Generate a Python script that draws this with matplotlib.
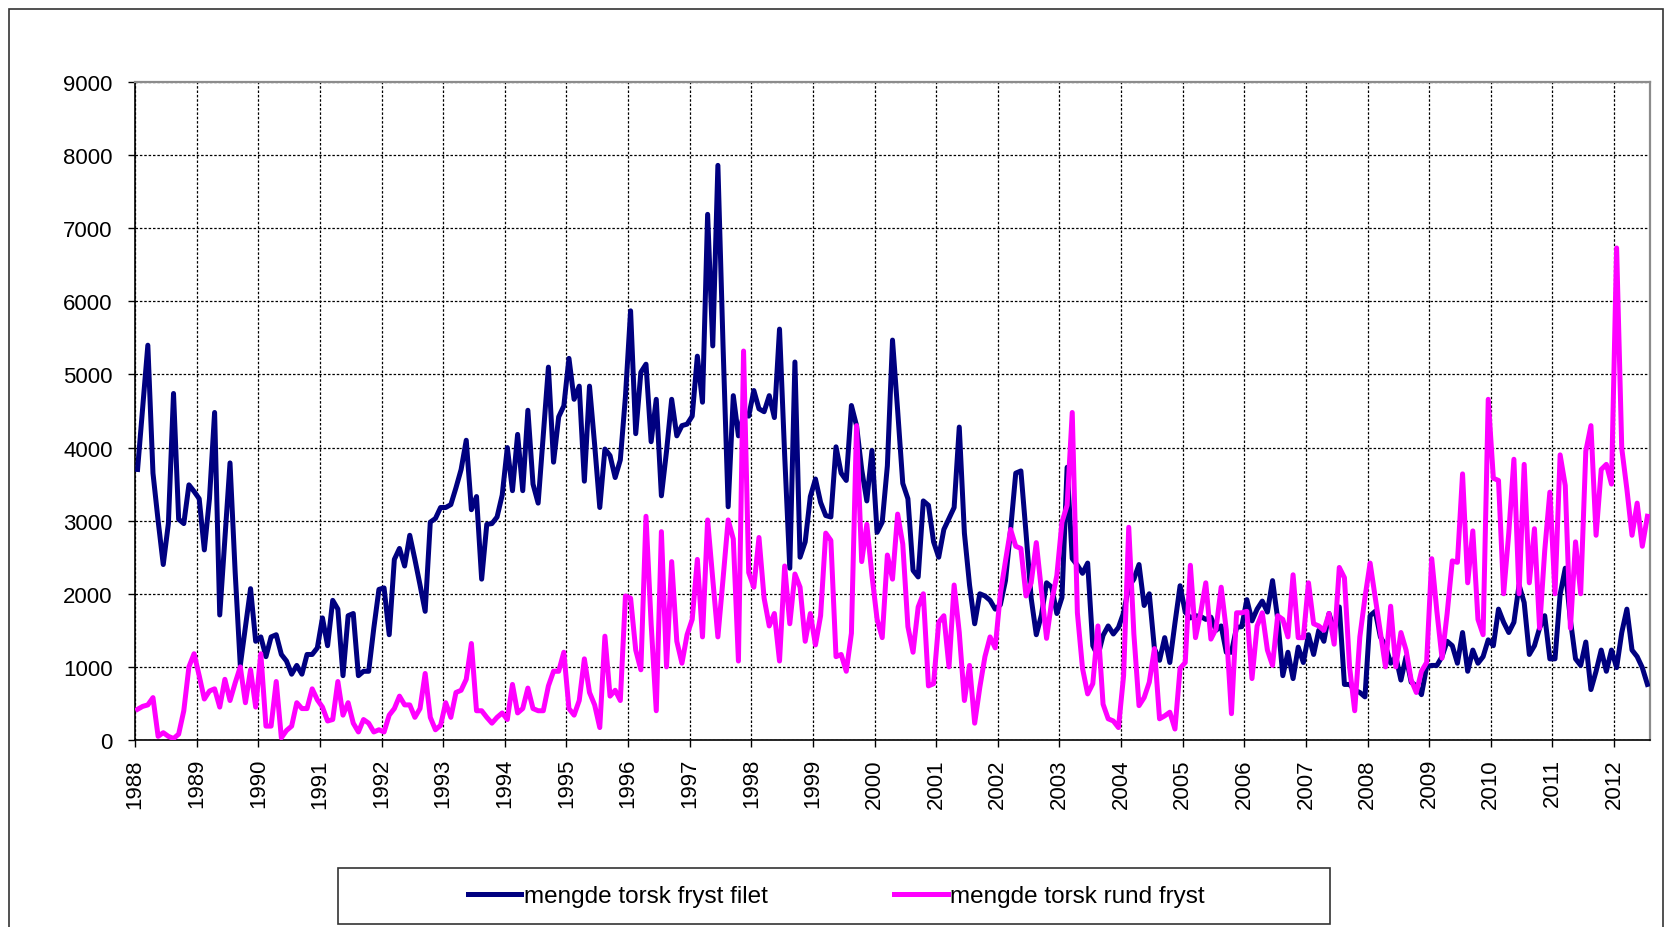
import numpy as np
import matplotlib.pyplot as plt
from matplotlib.patches import Rectangle

# monthly values, Jan 1988 - Jul 2012
years = list(range(1988, 2013))

filet = [
    3700, 4550, 5400, 3650, 3000, 2400, 2960, 4740, 3020, 2960, 3490, 3400,  # 1988
    3300, 2600, 3300, 4480, 1710, 2750, 3790, 2300, 1020, 1550, 2070, 1350,  # 1989
    1410, 1140, 1410, 1440, 1170, 1080, 900, 1020, 900, 1170, 1170, 1260,    # 1990
    1670, 1290, 1910, 1790, 880, 1700, 1730, 880, 940, 940, 1530, 2060,      # 1991
    2080, 1440, 2470, 2620, 2380, 2800, 2470, 2120, 1760, 2980, 3030, 3180,  # 1992
    3180, 3220, 3450, 3700, 4100, 3150, 3330, 2200, 2950, 2960, 3050, 3350,  # 1993
    4000, 3410, 4180, 3410, 4510, 3500, 3240, 4180, 5100, 3800, 4420, 4570,  # 1994
    5220, 4660, 4840, 3540, 4840, 4040, 3180, 3980, 3890, 3590, 3830, 4700,  # 1995
    5870, 4190, 5030, 5140, 4080, 4660, 3340, 3950, 4660, 4160, 4300, 4320,  # 1996
    4430, 5250, 4620, 7190, 5390, 7860, 5400, 3190, 4710, 4160, 4450, 4430,  # 1997
    4780, 4530, 4490, 4710, 4410, 5620, 3900, 2350, 5170, 2500, 2710, 3330,  # 1998
    3570, 3250, 3070, 3050, 4010, 3650, 3550, 4575, 4300, 3700, 3270, 3960,  # 1999
    2840, 2980, 3750, 5470, 4510, 3510, 3300, 2320, 2230, 3270, 3210, 2710,  # 2000
    2500, 2880, 3030, 3180, 4280, 2830, 2120, 1590, 2000, 1970, 1910, 1790,  # 2001
    1850, 2180, 2880, 3650, 3680, 2830, 1940, 1440, 1710, 2150, 2090, 1730,  # 2002
    1950, 3730, 2480, 2390, 2280, 2420, 1290, 1150, 1430, 1560, 1450, 1540,  # 2003
    1740, 2100, 2200, 2400, 1840, 2000, 1250, 1090, 1400, 1060, 1600, 2110,  # 2004
    1750, 1670, 1700, 1690, 1650, 1680, 1500, 1560, 1200, 1200, 1540, 1550,  # 2005
    1920, 1630, 1790, 1900, 1750, 2180, 1660, 880, 1200, 840, 1270, 1060,    # 2006
    1440, 1170, 1500, 1350, 1730, 1500, 1820, 760, 760, 680, 650, 590,       # 2007
    1700, 1760, 1410, 1290, 1050, 1140, 820, 1140, 790, 740, 620, 1000,      # 2008
    1020, 1020, 1140, 1350, 1290, 1050, 1470, 940, 1230, 1050, 1140, 1370,   # 2009
    1290, 1790, 1610, 1470, 1610, 2120, 1880, 1170, 1290, 1530, 1700, 1110,  # 2010
    1110, 1990, 2350, 1640, 1110, 1020, 1340, 690, 940, 1230, 940, 1230,     # 2011
    990, 1470, 1790, 1230, 1140, 990, 760,                                   # 2012
]

rund = [
    420, 460, 480, 580, 50, 100, 50, 20, 80, 400, 1000, 1180,                # 1988
    880, 560, 670, 700, 450, 830, 540, 780, 1000, 510, 960, 450,             # 1989
    1180, 190, 190, 800, 30, 130, 190, 510, 430, 430, 700, 550,              # 1990
    450, 260, 280, 800, 340, 510, 230, 110, 280, 230, 110, 140,              # 1991
    110, 340, 430, 600, 480, 480, 310, 430, 910, 310, 140, 200,              # 1992
    510, 310, 650, 680, 830, 1320, 400, 400, 310, 230, 310, 370,             # 1993
    280, 760, 370, 430, 710, 430, 400, 400, 740, 940, 940, 1200,             # 1994
    430, 340, 540, 1110, 650, 480, 170, 1420, 600, 680, 540, 1970,           # 1995
    1940, 1230, 960, 3060, 1590, 400, 2850, 1000, 2440, 1350, 1050, 1440,    # 1996
    1650, 2470, 1410, 3010, 2200, 1410, 2200, 3010, 2750, 1080, 5320, 2290,  # 1997
    2090, 2770, 1940, 1560, 1730, 1080, 2380, 1590, 2270, 2090, 1350, 1730,  # 1998
    1300, 1700, 2830, 2730, 1140, 1170, 940, 1460, 4300, 2440, 2950, 2250,   # 1999
    1650, 1400, 2530, 2200, 3090, 2680, 1550, 1200, 1820, 2000, 740, 770,    # 2000
    1610, 1700, 1000, 2120, 1470, 540, 1020, 230, 720, 1140, 1410, 1260,     # 2001
    2000, 2450, 2880, 2650, 2620, 1970, 2150, 2700, 2050, 1390, 1900, 2250,  # 2002
    2980, 3210, 4480, 1740, 980, 630, 770, 1560, 490, 290, 260, 170,         # 2003
    880, 2910, 1450, 470, 580, 790, 1250, 290, 330, 380, 150, 980,           # 2004
    1060, 2390, 1400, 1740, 2150, 1380, 1520, 2090, 1500, 360, 1740, 1740,   # 2005
    1760, 840, 1560, 1740, 1230, 1020, 1700, 1650, 1410, 2260, 1400, 1400,   # 2006
    2150, 1590, 1560, 1500, 1730, 1310, 2360, 2220, 1000, 400, 1410, 1950,   # 2007
    2420, 1950, 1470, 1000, 1830, 1000, 1470, 1230, 820, 650, 940, 1060,     # 2008
    2480, 1760, 1120, 1730, 2450, 2430, 3640, 2150, 2860, 1650, 1440, 4660,  # 2009
    3580, 3550, 2000, 2830, 3840, 2000, 3770, 2150, 2890, 1530, 2590, 3390,  # 2010
    2000, 3900, 3480, 1530, 2710, 2000, 3950, 4300, 2800, 3700, 3770, 3500,  # 2011
    6730, 3990, 3430, 2800, 3240, 2650, 3060,                                # 2012
]

labels = ['mengde torsk fryst filet', 'mengde torsk rund fryst']
colors = ['#000080', '#ff00ff']

plt.rcParams['font.family'] = ['Liberation Sans', 'DejaVu Sans']

W, H = 1668, 928
fig = plt.figure(figsize=(W / 100, H / 100), dpi=100)

# outer chart border
fig.patches.append(Rectangle((9 / W, -0.1), (1663 - 9) / W, 1.1 - 10.5 / H,
                             transform=fig.transFigure, fill=False,
                             edgecolor='#333333', lw=1.2))

ax = fig.add_axes([135 / W, 1 - 741 / H, (1650 - 135) / W, (741 - 83) / H])

n = len(filet)
l1, = ax.plot(np.arange(n) + 0.5, filet, color=colors[0], lw=3.6,
              zorder=3, label=labels[0])
l2, = ax.plot(np.arange(len(rund)) + 0.5, rund, color=colors[1], lw=3.6,
              zorder=4, label=labels[1])

ax.set_xlim(0, n)
ax.set_ylim(0, 9000)
ax.set_xticks(np.arange(len(years)) * 12)
ax.set_xticklabels([str(y) for y in years], rotation=90)
ax.set_yticks(range(0, 9001, 1000))

ax.grid(True, color='black', linestyle=(0, (2, 1.5)), lw=0.9, zorder=1)
ax.set_axisbelow(True)

for side in ['left', 'bottom']:
    ax.spines[side].set_color('black')
    ax.spines[side].set_linewidth(1.2)
for side in ['top', 'right']:
    ax.spines[side].set_color('#8c8c8c')
    ax.spines[side].set_linewidth(1.6)

ax.tick_params(axis='both', direction='out', length=5, width=1,
               labelsize=16, colors='black')
ax.tick_params(axis='y', pad=11)
ax.tick_params(axis='x', pad=8)

# legend box
fig.patches.append(Rectangle((338 / W, 1 - 925 / H), (1330 - 338) / W, 56 / H,
                             transform=fig.transFigure, fill=False,
                             edgecolor='#333333', lw=1.2))
fig.legend(handles=[l1, l2], labels=labels, loc='center left',
           bbox_to_anchor=(468 / W, 1 - 897 / H), ncol=2, frameon=False,
           fontsize=17.5, handlelength=2.2, handletextpad=0.1,
           columnspacing=5.2, borderpad=0, borderaxespad=0)

fig.savefig('out.png', dpi=100)
